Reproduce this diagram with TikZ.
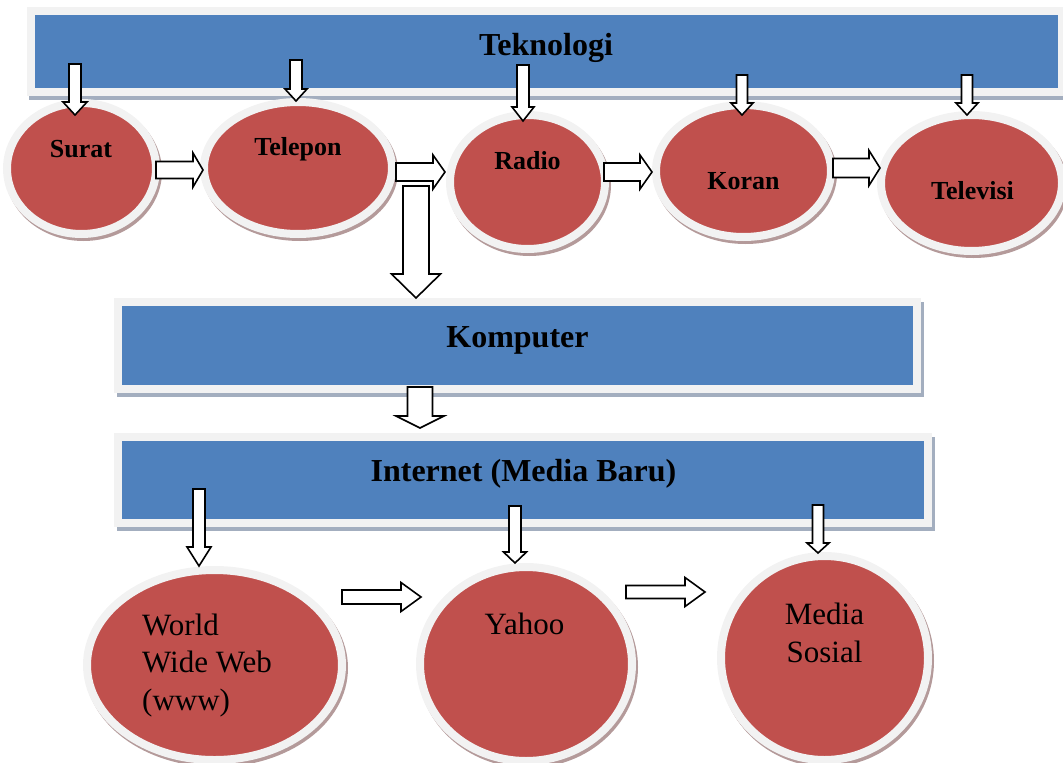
\documentclass[tikz,border=0pt]{standalone}
\usepackage{fontspec}
\setmainfont{Liberation Serif}
\usetikzlibrary{shapes.geometric,shadows,calc}

\definecolor{bannerblue}{HTML}{4F81BD}
\definecolor{framegray}{HTML}{F2F2F2}
\definecolor{bannershadow}{HTML}{A3AEBF}
\definecolor{bubblered}{HTML}{C0504D}
\definecolor{bubbleshadow}{HTML}{B49A9A}

\tikzset{
  banner/.style={rectangle, fill=bannerblue, draw=framegray, line width=8pt, inner sep=0pt,
    drop shadow={shadow xshift=2.5pt, shadow yshift=-4pt, fill=bannershadow,
      draw=bannershadow, line width=8pt, opacity=1}},
  bubble/.style={ellipse, fill=bubblered, draw=framegray, line width=8pt, inner sep=0pt,
    drop shadow={shadow xshift=2pt, shadow yshift=-3pt, fill=bubbleshadow,
      draw=bubbleshadow, line width=8pt, opacity=1}},
  titletext/.style={font=\fontsize{32}{38}\selectfont\bfseries, inner sep=0pt, anchor=base},
  stagetext/.style={font=\fontsize{26}{31}\selectfont\bfseries, inner sep=0pt, anchor=base},
  webtext/.style={font=\fontsize{31}{37.5}\selectfont, inner sep=0pt},
  blk/.style={draw=black, fill=white, line width=1.6pt, line join=miter},
}

% block arrow pointing down: top point, tip point, shaft width, head width, head length
\newcommand\downblock[5]{%
  \draw[blk] let \p1=(#1), \p2=(#2) in
    (\x2-#3/2,\y1) -- (\x2+#3/2,\y1) -- (\x2+#3/2,\y2+#5) -- (\x2+#4/2,\y2+#5)
    -- (\x2,\y2) -- (\x2-#4/2,\y2+#5) -- (\x2-#3/2,\y2+#5) -- cycle;}
% block arrow pointing right: tail point, tip point, shaft width, head width, head length
\newcommand\rightblock[5]{%
  \draw[blk] let \p1=(#1), \p2=(#2) in
    (\x1,\y2+#3/2) -- (\x2-#5,\y2+#3/2) -- (\x2-#5,\y2+#4/2) -- (\x2,\y2)
    -- (\x2-#5,\y2-#4/2) -- (\x2-#5,\y2-#3/2) -- (\x1,\y2-#3/2) -- cycle;}

\begin{document}
\begin{tikzpicture}[x=1pt, y=-1pt]
\useasboundingbox (0,0) rectangle (1063,763);

% banners
\node[banner, minimum width=1031pt, minimum height=81pt] (teknologi) at (546.25,51.5) {};
\node[banner, minimum width=799pt, minimum height=87pt] (komputer) at (517.5,345.5) {};
\node[banner, minimum width=810pt, minimum height=86pt] (internet) at (523,480) {};

\node[titletext] (teknologi-text) at (546,55) {Teknologi};
\node[titletext] (komputer-text) at (517.5,347) {Komputer};
\node[titletext] (internet-text) at (523.5,481) {Internet (Media Baru)};

% media of the first row
\node[bubble, minimum width=149pt, minimum height=131pt] (surat) at (81.5,168.5) {};
\node[bubble, minimum width=188pt, minimum height=132pt] (telepon) at (298,168) {};
\node[bubble, minimum width=155pt, minimum height=134pt] (radio) at (527.5,182) {};
\node[bubble, minimum width=175pt, minimum height=132pt] (koran) at (743.5,171) {};
\node[bubble, minimum width=181pt, minimum height=136pt] (televisi) at (971.5,183) {};

\node[stagetext] (surat-text) at (81,157) {Surat};
\node[stagetext] (telepon-text) at (298,155) {Telepon};
\node[stagetext] (radio-text) at (527.5,169) {Radio};
\node[stagetext] (koran-text) at (743.5,189) {Koran};
\node[stagetext] (televisi-text) at (972.5,199) {Televisi};

% new media
\node[bubble, minimum width=255pt, minimum height=190pt] (www) at (214.5,665) {};
\node[bubble, minimum width=212pt, minimum height=194pt] (yahoo) at (526,664) {};
\node[bubble, minimum width=207pt, minimum height=204pt] (media) at (824.5,658) {};

% multi-line labels: the base anchor sits on the last line
\node[webtext, align=left, anchor=base west] (www-text) at (142,710) {World\\Wide Web\\(www)};
\node[webtext, anchor=base] (yahoo-text) at (524.5,634) {Yahoo};
\node[webtext, align=center, anchor=base] (media-text) at (824.5,662) {Media\\Sosial};

% arrow tails inside the banners
\coordinate (s1) at (75,64);
\coordinate (s2) at (296,60);
\coordinate (s3) at (523,65);
\coordinate (s4) at (742,75);
\coordinate (s5) at (967,75);
\coordinate (k0) at (416,186);
\coordinate (i0) at (420,387);
\coordinate (w1) at (199,489);
\coordinate (w2) at (515,506);
\coordinate (w3) at (818,505);

\downblock{s1}{$(s1 |- surat.north)+(0,16)$}{12pt}{24pt}{13pt}
\downblock{s2}{$(s2 |- telepon.north)+(0,3)$}{12pt}{22pt}{12pt}
\downblock{s3}{$(s3 |- radio.north)+(0,10)$}{12pt}{22pt}{14pt}
\downblock{s4}{$(s4 |- koran.north)+(0,14)$}{11pt}{22pt}{12pt}
\downblock{s5}{$(s5 |- televisi.north)+(0,4)$}{11pt}{22pt}{12pt}

\rightblock{$(surat.east)+(-4,0)$}{$(telepon.west)+(3,2)$}{17pt}{34pt}{10pt}
\rightblock{telepon.east}{$(radio.west |- telepon.east)+(-1,4)$}{18pt}{34pt}{12pt}
\rightblock{$(radio.east)+(-5,0)$}{$(koran.west)+(0,1)$}{18pt}{34pt}{12pt}
\rightblock{$(koran.east)+(-2,0)$}{$(televisi.west |- koran.east)+(3,-3)$}{19pt}{35pt}{11pt}

\downblock{k0}{k0 |- komputer.north}{26pt}{49pt}{24pt}
\downblock{i0}{$(i0 |- internet.north)+(0,-5)$}{25pt}{48pt}{12pt}

\downblock{w1}{w1 |- www.north}{12pt}{24pt}{19pt}
\downblock{w2}{w2 |- yahoo.north}{12pt}{23pt}{11pt}
\downblock{w3}{$(w3 |- media.north)+(0,1)$}{11pt}{22pt}{10pt}

\rightblock{$(www.east)+(-4,0)$}{$(yahoo.west)+(5,-67)$}{14pt}{29pt}{20pt}
\rightblock{$(yahoo.east)+(-10,0)$}{$(media.west)+(-12,-66)$}{13pt}{29pt}{20pt}
\end{tikzpicture}
\end{document}
